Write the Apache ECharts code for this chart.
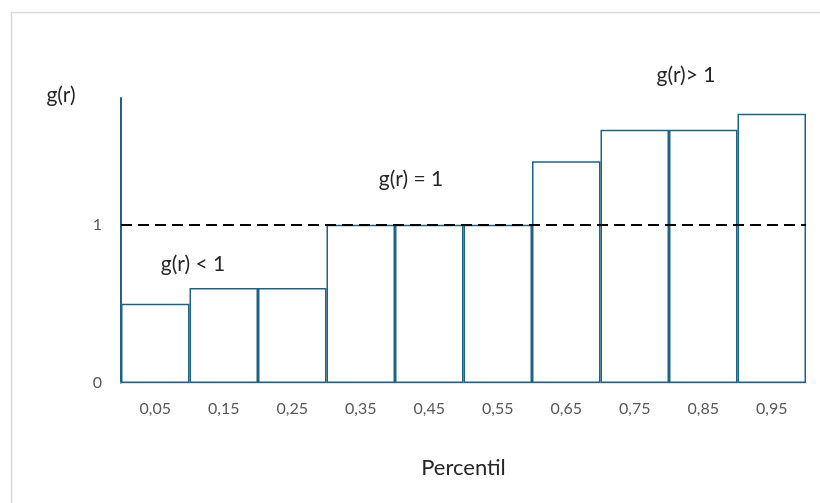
<!DOCTYPE html>
<html><head><meta charset="utf-8">
<script src="https://cdn.jsdelivr.net/npm/echarts@6/dist/echarts.min.js"></script>
<style>html,body{margin:0;padding:0;background:#fff}#c{width:820px;height:503px}</style>
</head><body><div id="c"></div>
<script>
const categories = ['0,05','0,15','0,25','0,35','0,45','0,55','0,65','0,75','0,85','0,95'];
const gValues = [0.5, 0.6, 0.6, 1, 1, 1, 1.4, 1.6, 1.6, 1.7];
const referenceLevel = 1;
const yTickLabels = ['0', '1'];

const chart = echarts.init(document.getElementById('c'));
const teal = '#1f6384';
const font = 'Lato, "Open Sans", sans-serif';
chart.setOption({
  animation: false,
  grid: { left: 121, right: 14, top: 98, bottom: 120 },
  xAxis: {
    type: 'category', data: categories,
    axisLine: { show: true, lineStyle: { color: '#d9d9d9', width: 1.5 } },
    axisTick: { show: false },
    axisLabel: { color: '#595959', fontSize: 16, fontFamily: font, margin: 18 },
    name: 'Percentil', nameLocation: 'middle', nameGap: 74,
    nameTextStyle: { color: '#262626', fontSize: 22, fontFamily: font }
  },
  yAxis: {
    type: 'value', min: 0, max: 1.8, interval: 1,
    axisLine: { show: true, lineStyle: { color: teal, width: 2 } },
    axisTick: { show: false },
    splitLine: { show: false },
    axisLabel: {
      color: '#595959', fontSize: 16, fontFamily: font, margin: 19,
      showMaxLabel: false,
      formatter: v => (Number.isInteger(v) && yTickLabels.includes(String(v))) ? String(v) : ''
    }
  },
  series: [{
    type: 'bar', data: gValues, barCategoryGap: '0%',
    itemStyle: { color: '#ffffff', borderColor: teal, borderWidth: 1.5 },
    markLine: {
      silent: true, symbol: 'none', label: { show: false },
      lineStyle: { color: '#000', type: [11, 6], width: 2 },
      data: [{ yAxis: referenceLevel }]
    }
  }],
  graphic: [
    { type: 'rect', shape: { x: 11.5, y: 12.5, width: 900, height: 600 }, style: { fill: 'none', stroke: '#d9d9d9', lineWidth: 1.5 }, z: -1 },
    { type: 'text', x: 61, y: 95, style: { text: 'g(r)', fill: '#262626', font: '21px ' + font, align: 'center', verticalAlign: 'middle' } },
    { type: 'text', x: 686, y: 75, style: { text: 'g(r)> 1', fill: '#262626', font: '21px ' + font, align: 'center', verticalAlign: 'middle' } },
    { type: 'text', x: 411, y: 179, style: { text: 'g(r) = 1', fill: '#262626', font: '21px ' + font, align: 'center', verticalAlign: 'middle' } },
    { type: 'text', x: 193, y: 264, style: { text: 'g(r) < 1', fill: '#262626', font: '21px ' + font, align: 'center', verticalAlign: 'middle' } }
  ]
});
</script></body></html>
